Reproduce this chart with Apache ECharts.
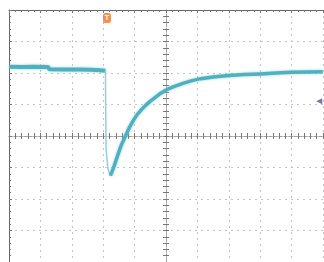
<!DOCTYPE html>
<html>
<head>
<meta charset="utf-8">
<script src="https://cdn.jsdelivr.net/npm/echarts@6/dist/echarts.min.js"></script>
<style>
    html, body { margin: 0; padding: 0; background: #fff; }
    #chart { width: 324px; height: 262px; }
</style>
</head>
<body>
<div id="chart"></div>
<script>
// values in screen divisions: x -5..5, y -4..4
const preTrigger = [
    [-5.00, 2.20], [-4.60, 2.19], [-4.20, 2.20], [-3.76, 2.19],
    [-3.71, 2.12], [-3.20, 2.11], [-2.74, 2.11], [-2.40, 2.10],
    [-2.10, 2.09], [-1.93, 2.07],
];
const fallEdge = [
    [-1.93, 2.07], [-1.91, -0.42], [-1.85, -1.03], [-1.77, -1.26],
];
const recovery = [
    [-1.77, -1.26], [-1.72, -1.14], [-1.65, -0.95], [-1.56, -0.68],
    [-1.44, -0.33], [-1.31, -0.04], [-1.18, 0.24], [-1.05, 0.48],
    [-0.92, 0.68], [-0.78, 0.84], [-0.64, 0.98], [-0.51, 1.10],
    [-0.35, 1.22], [-0.18, 1.35], [0.02, 1.47], [0.25, 1.57],
    [0.54, 1.67], [0.80, 1.75], [1.10, 1.82], [1.50, 1.87],
    [2.00, 1.92], [2.50, 1.95], [3.00, 1.97], [3.50, 2.00],
    [4.00, 2.02], [4.99, 2.04],
];
const triggerPos = [-1.88, 3.75];
const levelPos = [4.88, 1.10];

const GRID_W = 314;
const GRID_H = 252;
const TRACE = '#4fb1bf';
const GRID = '#c4c4c4';
const TICK = '#777';

const chart = echarts.init(document.getElementById('chart'));

// center crosshair: two axes on the same line, ticks out and ticks in
function centerAxis(min, max, position, offset, inside, withSplit) {
    return {
        type: 'value', min, max, interval: 1, position, offset,
        axisLine: { show: true, onZero: false, lineStyle: { color: '#a0a0a0', type: [3, 2] } },
        axisTick: { show: true, inside, length: 3, lineStyle: { color: TICK } },
        minorTick: { show: true, splitNumber: 5, length: 3, lineStyle: { color: TICK } },
        axisLabel: { show: false },
        splitLine: { show: withSplit, lineStyle: { color: GRID, type: [2, 4] } },
    };
}
function borderAxis(min, max, position) {
    return {
        type: 'value', min, max, interval: 1, position,
        axisLine: { show: true, onZero: false, lineStyle: { color: '#666' } },
        axisTick: { show: true, inside: true, length: 3, lineStyle: { color: TICK } },
        minorTick: { show: true, splitNumber: 5, length: 2, lineStyle: { color: TICK } },
        axisLabel: { show: false },
        splitLine: { show: false },
    };
}

chart.setOption({
    animation: false,
    backgroundColor: '#fff',
    grid: { left: 9, top: 10, width: GRID_W, height: GRID_H },
    xAxis: [
        centerAxis(-5, 5, 'bottom', -GRID_H / 2, false, true),
        centerAxis(-5, 5, 'bottom', -GRID_H / 2, true, false),
        borderAxis(-5, 5, 'top'),
    ],
    yAxis: [
        centerAxis(-4, 4, 'left', -GRID_W / 2, false, true),
        centerAxis(-4, 4, 'left', -GRID_W / 2, true, false),
        borderAxis(-4, 4, 'left'),
    ],
    series: [
        {
            type: 'line', data: preTrigger, showSymbol: false,
            lineStyle: { color: TRACE, width: 4, shadowColor: 'rgba(120,200,215,0.7)', shadowBlur: 3 },
        },
        {
            type: 'line', data: fallEdge, showSymbol: false,
            lineStyle: { color: '#8fd0da', width: 1.5 },
        },
        {
            type: 'line', data: recovery, showSymbol: false,
            lineStyle: { color: TRACE, width: 3.5, shadowColor: 'rgba(120,200,215,0.7)', shadowBlur: 3, join: 'round' },
        },
        {
            type: 'scatter', data: [triggerPos], symbol: 'roundRect', symbolSize: [8, 10],
            itemStyle: { color: '#e8772e' },
            label: { show: true, position: 'inside', formatter: 'T', color: '#fff', fontSize: 7, fontFamily: 'DejaVu Sans', fontWeight: 'bold' },
        },
        {
            type: 'scatter', data: [levelPos], symbol: 'triangle', symbolRotate: 90, symbolSize: [6, 6],
            itemStyle: { color: '#5a4fa0' },
        },
    ],
});
</script>
</body>
</html>
